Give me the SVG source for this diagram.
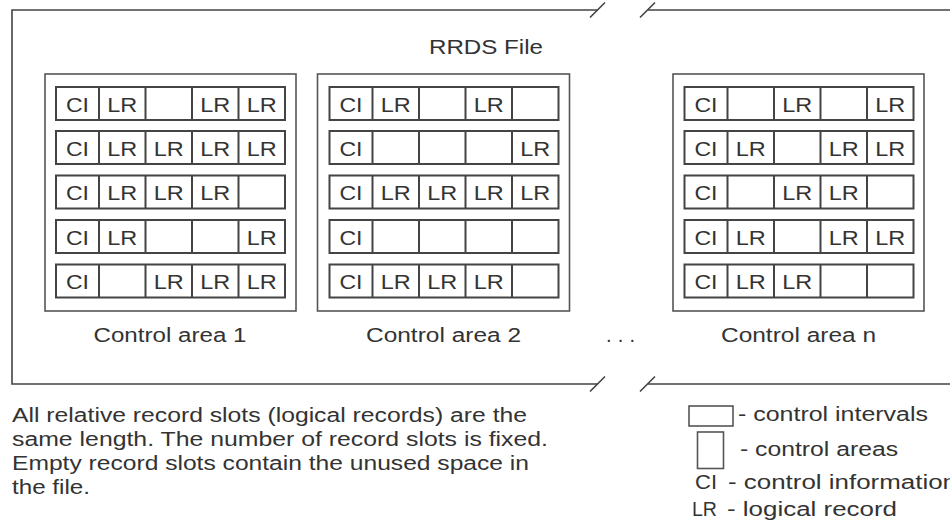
<svg xmlns="http://www.w3.org/2000/svg" xmlns:xlink="http://www.w3.org/1999/xlink" width="950" height="527" viewBox="0 0 950 527">
<style>
.frame{fill:none;stroke:#444;stroke-width:1.6}
.area{fill:#fff;stroke:#555;stroke-width:1.6}
.row rect,.row path{fill:none;stroke:#444;stroke-width:2}
.leg{fill:#fff;stroke:#555;stroke-width:1.6}
text{font-family:"Liberation Sans",Arial,Helvetica,sans-serif;font-size:20px;fill:#333}
.m{text-anchor:middle}
</style>
<defs>
<g id="ciRow" class="row"><rect x="0" y="0" width="229" height="33"/><path d="M43 0V33M89.5 0V33M136 0V33M182.5 0V33"/></g>
</defs>
<rect width="950" height="527" fill="#fff"/>
<g id="file-frame">
<path class="frame" d="M598 10H12V384H598M648 10H950M648 384H950"/>
<path class="frame" d="M590 17.5L605 2.5M640 17.5L655 2.5M590 391.5L605 376.5M640 391.5L655 376.5"/>
<text x="486" y="54" class="m" textLength="114" lengthAdjust="spacingAndGlyphs">RRDS File</text>
</g>
<g id="connectors"></g>
<g id="area1">
<rect class="area" x="45" y="74" width="251" height="237"/>
<use xlink:href="#ciRow" x="56" y="87"/><use xlink:href="#ciRow" x="56" y="131"/><use xlink:href="#ciRow" x="56" y="175.5"/><use xlink:href="#ciRow" x="56" y="220"/><use xlink:href="#ciRow" x="56" y="264.5"/>
<g class="m">
<text x="77.5" y="111.5" textLength="23" lengthAdjust="spacingAndGlyphs">CI</text><text x="122.25" y="111.5" textLength="30" lengthAdjust="spacingAndGlyphs">LR</text><text x="215.25" y="111.5" textLength="30" lengthAdjust="spacingAndGlyphs">LR</text><text x="261.75" y="111.5" textLength="30" lengthAdjust="spacingAndGlyphs">LR</text>
<text x="77.5" y="155.5" textLength="23" lengthAdjust="spacingAndGlyphs">CI</text><text x="122.25" y="155.5" textLength="30" lengthAdjust="spacingAndGlyphs">LR</text><text x="168.75" y="155.5" textLength="30" lengthAdjust="spacingAndGlyphs">LR</text><text x="215.25" y="155.5" textLength="30" lengthAdjust="spacingAndGlyphs">LR</text><text x="261.75" y="155.5" textLength="30" lengthAdjust="spacingAndGlyphs">LR</text>
<text x="77.5" y="200" textLength="23" lengthAdjust="spacingAndGlyphs">CI</text><text x="122.25" y="200" textLength="30" lengthAdjust="spacingAndGlyphs">LR</text><text x="168.75" y="200" textLength="30" lengthAdjust="spacingAndGlyphs">LR</text><text x="215.25" y="200" textLength="30" lengthAdjust="spacingAndGlyphs">LR</text>
<text x="77.5" y="244.5" textLength="23" lengthAdjust="spacingAndGlyphs">CI</text><text x="122.25" y="244.5" textLength="30" lengthAdjust="spacingAndGlyphs">LR</text><text x="261.75" y="244.5" textLength="30" lengthAdjust="spacingAndGlyphs">LR</text>
<text x="77.5" y="289" textLength="23" lengthAdjust="spacingAndGlyphs">CI</text><text x="168.75" y="289" textLength="30" lengthAdjust="spacingAndGlyphs">LR</text><text x="215.25" y="289" textLength="30" lengthAdjust="spacingAndGlyphs">LR</text><text x="261.75" y="289" textLength="30" lengthAdjust="spacingAndGlyphs">LR</text>
<text x="170" y="342" textLength="153" lengthAdjust="spacingAndGlyphs">Control area 1</text>
</g>
</g>
<g id="area2">
<rect class="area" x="317.5" y="74" width="252" height="237"/>
<use xlink:href="#ciRow" x="329.5" y="87"/><use xlink:href="#ciRow" x="329.5" y="131"/><use xlink:href="#ciRow" x="329.5" y="175.5"/><use xlink:href="#ciRow" x="329.5" y="220"/><use xlink:href="#ciRow" x="329.5" y="264.5"/>
<g class="m">
<text x="351" y="111.5" textLength="23" lengthAdjust="spacingAndGlyphs">CI</text><text x="395.75" y="111.5" textLength="30" lengthAdjust="spacingAndGlyphs">LR</text><text x="488.75" y="111.5" textLength="30" lengthAdjust="spacingAndGlyphs">LR</text>
<text x="351" y="155.5" textLength="23" lengthAdjust="spacingAndGlyphs">CI</text><text x="535.25" y="155.5" textLength="30" lengthAdjust="spacingAndGlyphs">LR</text>
<text x="351" y="200" textLength="23" lengthAdjust="spacingAndGlyphs">CI</text><text x="395.75" y="200" textLength="30" lengthAdjust="spacingAndGlyphs">LR</text><text x="442.25" y="200" textLength="30" lengthAdjust="spacingAndGlyphs">LR</text><text x="488.75" y="200" textLength="30" lengthAdjust="spacingAndGlyphs">LR</text><text x="535.25" y="200" textLength="30" lengthAdjust="spacingAndGlyphs">LR</text>
<text x="351" y="244.5" textLength="23" lengthAdjust="spacingAndGlyphs">CI</text>
<text x="351" y="289" textLength="23" lengthAdjust="spacingAndGlyphs">CI</text><text x="395.75" y="289" textLength="30" lengthAdjust="spacingAndGlyphs">LR</text><text x="442.25" y="289" textLength="30" lengthAdjust="spacingAndGlyphs">LR</text><text x="488.75" y="289" textLength="30" lengthAdjust="spacingAndGlyphs">LR</text>
<text x="443.5" y="342" textLength="155" lengthAdjust="spacingAndGlyphs">Control area 2</text>
</g>
</g>
<g id="ellipsis"><text x="606" y="342" textLength="29" lengthAdjust="spacing">...</text></g>
<g id="arean">
<rect class="area" x="673" y="74" width="251" height="237"/>
<use xlink:href="#ciRow" x="684.5" y="87"/><use xlink:href="#ciRow" x="684.5" y="131"/><use xlink:href="#ciRow" x="684.5" y="175.5"/><use xlink:href="#ciRow" x="684.5" y="220"/><use xlink:href="#ciRow" x="684.5" y="264.5"/>
<g class="m">
<text x="706" y="111.5" textLength="23" lengthAdjust="spacingAndGlyphs">CI</text><text x="797.25" y="111.5" textLength="30" lengthAdjust="spacingAndGlyphs">LR</text><text x="890.25" y="111.5" textLength="30" lengthAdjust="spacingAndGlyphs">LR</text>
<text x="706" y="155.5" textLength="23" lengthAdjust="spacingAndGlyphs">CI</text><text x="750.75" y="155.5" textLength="30" lengthAdjust="spacingAndGlyphs">LR</text><text x="843.75" y="155.5" textLength="30" lengthAdjust="spacingAndGlyphs">LR</text><text x="890.25" y="155.5" textLength="30" lengthAdjust="spacingAndGlyphs">LR</text>
<text x="706" y="200" textLength="23" lengthAdjust="spacingAndGlyphs">CI</text><text x="797.25" y="200" textLength="30" lengthAdjust="spacingAndGlyphs">LR</text><text x="843.75" y="200" textLength="30" lengthAdjust="spacingAndGlyphs">LR</text>
<text x="706" y="244.5" textLength="23" lengthAdjust="spacingAndGlyphs">CI</text><text x="750.75" y="244.5" textLength="30" lengthAdjust="spacingAndGlyphs">LR</text><text x="843.75" y="244.5" textLength="30" lengthAdjust="spacingAndGlyphs">LR</text><text x="890.25" y="244.5" textLength="30" lengthAdjust="spacingAndGlyphs">LR</text>
<text x="706" y="289" textLength="23" lengthAdjust="spacingAndGlyphs">CI</text><text x="750.75" y="289" textLength="30" lengthAdjust="spacingAndGlyphs">LR</text><text x="797.25" y="289" textLength="30" lengthAdjust="spacingAndGlyphs">LR</text>
<text x="798.5" y="342" textLength="155" lengthAdjust="spacingAndGlyphs">Control area n</text>
</g>
</g>
<g id="note">
<text x="12" y="422" textLength="515" lengthAdjust="spacingAndGlyphs">All relative record slots (logical records) are the</text>
<text x="12" y="446" textLength="536" lengthAdjust="spacingAndGlyphs">same length. The number of record slots is fixed.</text>
<text x="12" y="470" textLength="517" lengthAdjust="spacingAndGlyphs">Empty record slots contain the unused space in</text>
<text x="12" y="494" textLength="78" lengthAdjust="spacingAndGlyphs">the file.</text>
</g>
<g id="legend">
<rect class="leg" x="689" y="406" width="44" height="20"/>
<text x="738" y="421" textLength="190" lengthAdjust="spacingAndGlyphs">- control intervals</text>
<rect class="leg" x="697.5" y="432" width="26" height="36.5"/>
<text x="740" y="456" textLength="158" lengthAdjust="spacingAndGlyphs">- control areas</text>
<text x="695" y="489" textLength="22" lengthAdjust="spacingAndGlyphs">CI</text>
<text x="728" y="489" textLength="229" lengthAdjust="spacingAndGlyphs">- control information</text>
<text x="692" y="516" textLength="25" lengthAdjust="spacingAndGlyphs">LR</text>
<text x="727" y="516" textLength="170" lengthAdjust="spacingAndGlyphs">- logical record</text>
</g>
</svg>
